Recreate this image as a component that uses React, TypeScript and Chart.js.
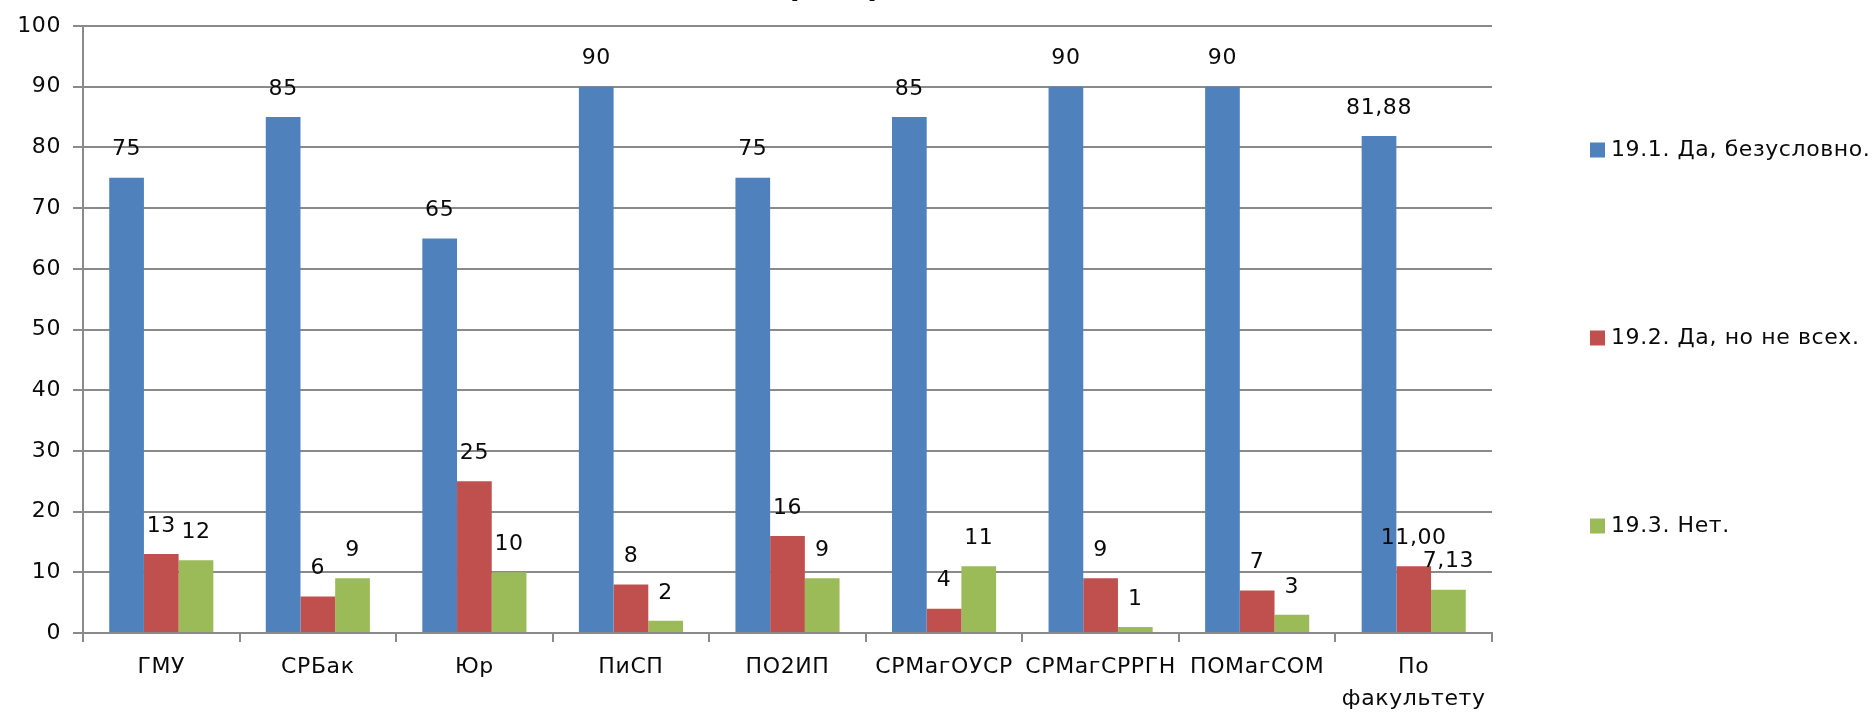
import React, { useEffect, useRef } from "react";
import { Chart, registerables } from "chart.js";

Chart.register(...registerables);

const categories: (string | string[])[] = [
  "ГМУ",
  "СРБак",
  "Юр",
  "ПиСП",
  "ПО2ИП",
  "СРМагОУСР",
  "СРМагСРРГН",
  "ПОМагСОМ",
  ["По", "факультету"],
];
const seriesNames = ["19.1. Да, безусловно.", "19.2. Да, но не всех.", "19.3. Нет."];
const seriesYes = [75, 85, 65, 90, 75, 85, 90, 90, 81.88];
const seriesPartly = [13, 6, 25, 8, 16, 4, 9, 7, 11.0];
const seriesNo = [12, 9, 10, 2, 9, 11, 1, 3, 7.13];
const labelDecimals = [0, 0, 0, 0, 0, 0, 0, 0, 2];
const titleText = "распределении";
const yMin = 0;
const yMax = 100;
const yStep = 10;

const COLORS = ["#4F81BD", "#C0504D", "#9BBB59"];
const FONT = "'DejaVu Sans', Verdana, sans-serif";
const GRID = "#8a8a8a";
const TEXT = "#0a0a0a";
const W = 1874;
const H = 715;

export default function App() {
  const ref = useRef<HTMLCanvasElement | null>(null);

  useEffect(() => {
    document.body.style.margin = "0";
    const canvas = ref.current;
    if (!canvas) return;

    const spacing = {
      id: "spacing",
      beforeUpdate(chart: any) {
        chart.ctx.letterSpacing = "0.6px";
      },
      beforeDraw(chart: any) {
        chart.ctx.letterSpacing = "0.6px";
      },
    };

    const valueLabels = {
      id: "valueLabels",
      afterDatasetsDraw(chart: any) {
        const ctx = chart.ctx;
        ctx.save();
        ctx.font = `22px ${FONT}`;
        ctx.fillStyle = TEXT;
        ctx.textAlign = "center";
        ctx.textBaseline = "middle";
        chart.data.datasets.forEach((ds: any, di: number) => {
          const meta = chart.getDatasetMeta(di);
          meta.data.forEach((bar: any, i: number) => {
            const v = ds.data[i] as number;
            const txt = v.toFixed(labelDecimals[i]).replace(".", ",");
            ctx.fillText(txt, bar.x, bar.y - 28);
          });
        });
        ctx.restore();
      },
    };

    const sideLegend = {
      id: "sideLegend",
      afterDraw(chart: any) {
        const ctx = chart.ctx;
        ctx.save();
        ctx.font = `22px ${FONT}`;
        ctx.textAlign = "left";
        ctx.textBaseline = "middle";
        seriesNames.forEach((name, i) => {
          const cy = 150 + i * 188;
          ctx.fillStyle = COLORS[i];
          ctx.fillRect(1590, cy - 7.5, 15, 15);
          ctx.fillStyle = TEXT;
          ctx.fillText(name, 1611, cy);
        });
        // title, almost entirely cut off at the top edge
        ctx.font = `bold 28px ${FONT}`;
        ctx.textBaseline = "alphabetic";
        ctx.fillText(titleText, 790, -5);
        ctx.restore();
      },
    };

    const chart = new Chart(canvas, {
      type: "bar",
      data: {
        labels: categories as any,
        datasets: [
          { label: seriesNames[0], data: seriesYes, backgroundColor: COLORS[0] },
          { label: seriesNames[1], data: seriesPartly, backgroundColor: COLORS[1] },
          { label: seriesNames[2], data: seriesNo, backgroundColor: COLORS[2] },
        ],
      },
      options: {
        responsive: false,
        animation: false,
        devicePixelRatio: 1,
        layout: { padding: { top: 26, right: W - 1492, left: 0, bottom: 0 } },
        datasets: {
          bar: { barPercentage: 1, categoryPercentage: 0.665 },
        },
        plugins: {
          legend: { display: false },
          title: { display: false },
          tooltip: { enabled: false },
        },
        scales: {
          x: {
            offset: true,
            afterFit: (s: any) => {
              s.height = H - 633;
            },
            grid: {
              offset: true,
              display: true,
              drawOnChartArea: false,
              drawTicks: true,
              tickLength: 9,
              color: GRID,
              lineWidth: 2,
            },
            border: { display: true, color: GRID, width: 2 },
            ticks: {
              color: TEXT,
              padding: 9,
              maxRotation: 0,
              autoSkip: false,
              font: { family: FONT, size: 22, lineHeight: 1.45 },
            },
          },
          y: {
            min: yMin,
            max: yMax,
            afterFit: (s: any) => {
              s.width = 83;
            },
            grid: {
              color: GRID,
              lineWidth: 2,
              drawTicks: true,
              tickLength: 10,
            },
            border: { display: true, color: GRID, width: 2 },
            ticks: {
              stepSize: yStep,
              color: TEXT,
              padding: 12,
              font: { family: FONT, size: 22 },
            },
          },
        },
      },
      plugins: [spacing, valueLabels, sideLegend],
    });

    return () => {
      chart.destroy();
    };
  }, []);

  return (
    <div style={{ width: W, height: H, background: "#fff" }}>
      <canvas ref={ref} width={W} height={H} style={{ display: "block" }} />
    </div>
  );
}
